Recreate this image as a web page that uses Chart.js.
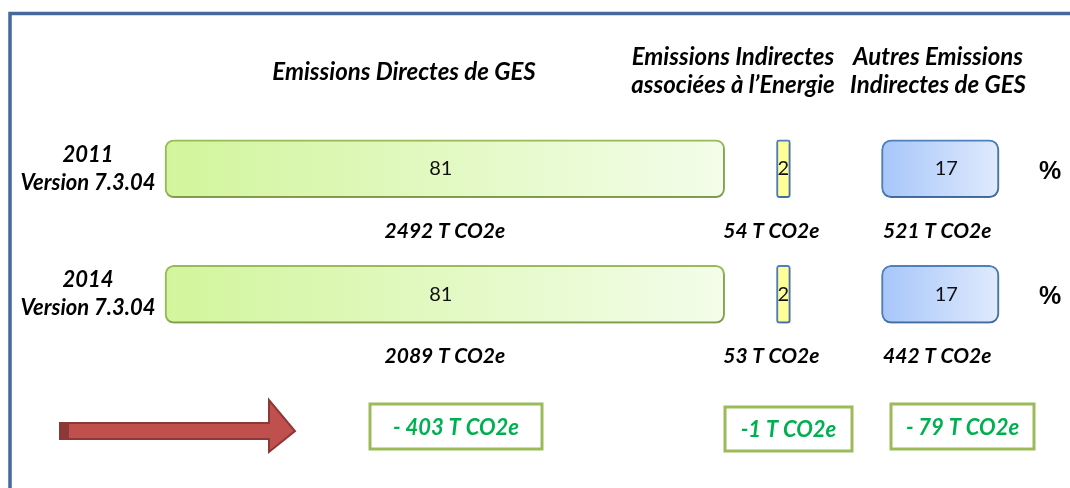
<!DOCTYPE html>
<html>
<head>
<meta charset="utf-8">
<script src="https://cdn.jsdelivr.net/npm/chart.js@4.4.1/dist/chart.umd.min.js"></script>
<style>
    html, body { margin: 0; padding: 0; background: #ffffff; }
    #wrap { width: 1070px; height: 488px; position: relative; }
</style>
</head>
<body>
<div id="wrap"><canvas id="chartGES"></canvas></div>
<script>
// Données
const annees = [["2011", "Version 7.3.04"], ["2014", "Version 7.3.04"]];
const categories = [["Emissions Directes de GES"], ["Emissions Indirectes", "associées à l\u2019Energie"], ["Autres Emissions", "Indirectes de GES"]];
const pctDirectes = [81, 81];
const pctEnergie = [2, 2];
const pctAutres = [17, 17];
const tonnesDirectes = [2492, 2089];
const tonnesEnergie = [54, 53];
const tonnesAutres = [521, 442];
const ecarts = ["- 403 T CO2e", "-1 T CO2e", "- 79 T CO2e"];

// Espaces entre les blocs (en unités de l'axe)
const ecart1 = 7.5;
const ecart2 = 13.2;

const FONT = "Lato, 'Open Sans', sans-serif";

// Construction des barres flottantes à partir des pourcentages
function segments(valeurs, departs) {
    return valeurs.map((v, i) => [departs[i], departs[i] + v]);
}
const debutDirectes = pctDirectes.map(() => 0);
const debutEnergie = pctDirectes.map((v) => v + ecart1);
const debutAutres = pctDirectes.map((v, i) => v + ecart1 + pctEnergie[i] + ecart2);

// Dégradé horizontal sur chaque barre
function degrade(c1, c2) {
    return function (context) {
        const chart = context.chart;
        const x = chart.scales.x;
        if (!chart.chartArea || !x || !Array.isArray(context.raw)) return c1;
        const x0 = x.getPixelForValue(context.raw[0]);
        const x1 = x.getPixelForValue(context.raw[1]);
        const g = chart.ctx.createLinearGradient(x0, 0, x1, 0);
        g.addColorStop(0, c1);
        g.addColorStop(1, c2);
        return g;
    };
}

const datasets = [
    {
        label: categories[0].join(" "),
        data: segments(pctDirectes, debutDirectes),
        valeurs: pctDirectes,
        tonnes: tonnesDirectes,
        backgroundColor: degrade('#d2f59c', '#f3fdea'),
        borderColor: '#9bbb59',
        borderWidth: 2,
        borderRadius: 9,
        decalage: 0,
        decalageValeur: -4
    },
    {
        label: categories[1].join(" "),
        data: segments(pctEnergie, debutEnergie),
        valeurs: pctEnergie,
        tonnes: tonnesEnergie,
        backgroundColor: '#ffff99',
        borderColor: '#4f81bd',
        borderWidth: 2,
        borderRadius: 3,
        decalage: -12,
        decalageValeur: 0
    },
    {
        label: categories[2].join(" "),
        data: segments(pctAutres, debutAutres),
        valeurs: pctAutres,
        tonnes: tonnesAutres,
        backgroundColor: degrade('#a7c6fa', '#dfeafd'),
        borderColor: '#4f81bd',
        borderWidth: 2,
        borderRadius: 10,
        decalage: -3,
        decalageValeur: 6
    }
];

// Ombre légère sous les barres
const ombrePlugin = {
    id: 'ombre',
    beforeDatasetsDraw(chart) {
        const ctx = chart.ctx;
        ctx.save();
        ctx.shadowColor = 'rgba(0,0,0,0.22)';
        ctx.shadowBlur = 3;
        ctx.shadowOffsetX = 1;
        ctx.shadowOffsetY = 2;
    },
    afterDatasetsDraw(chart) {
        chart.ctx.restore();
    }
};

// Textes, cadre, flèche et encadrés
const decorPlugin = {
    id: 'decor',
    afterDraw(chart) {
        const ctx = chart.ctx;
        const yScale = chart.scales.y;
        ctx.save();

        // Cadre bleu
        ctx.strokeStyle = '#47699a';
        ctx.lineWidth = 3.5;
        ctx.beginPath();
        ctx.moveTo(1070, 13.5);
        ctx.lineTo(10, 13.5);
        ctx.lineTo(10, 488);
        ctx.stroke();

        ctx.fillStyle = '#000';
        ctx.textBaseline = 'middle';
        ctx.textAlign = 'center';

        // En-têtes
        ctx.font = "italic bold 24px " + FONT;
        ctx.fillText(categories[0][0], 404, 72);
        ctx.fillText(categories[1][0], 733, 57);
        ctx.fillText(categories[1][1], 733, 85);
        ctx.fillText(categories[2][0], 938, 57);
        ctx.fillText(categories[2][1], 938, 85);

        annees.forEach((lignes, i) => {
            const yc = yScale.getPixelForValue(i);
            // Libellés des années
            ctx.fillStyle = '#000';
            ctx.font = "italic bold 22px " + FONT;
            ctx.fillText(lignes[0], 88, yc - 14);
            ctx.fillText(lignes[1], 88, yc + 14);
            // Pourcentage
            ctx.font = "bold 25px 'Liberation Sans', Arial, sans-serif";
            ctx.fillText("%", 1050, yc + 3);

            chart.data.datasets.forEach((ds, d) => {
                const el = chart.getDatasetMeta(d).data[i];
                const xc = el.x - (el.x - el.base) / 2;
                // Valeur dans la barre
                ctx.font = "20px " + FONT;
                ctx.fillStyle = '#111';
                ctx.fillText(String(ds.valeurs[i]), xc + ds.decalageValeur, yc);
                // Tonnage sous la barre
                ctx.font = "italic bold 21px " + FONT;
                ctx.fillStyle = '#000';
                ctx.fillText(ds.tonnes[i] + " T CO2e", xc + ds.decalage, yc + 62);
            });
        });

        // Flèche rouge
        ctx.fillStyle = '#c0504d';
        ctx.strokeStyle = '#8c3836';
        ctx.lineWidth = 2;
        ctx.beginPath();
        ctx.moveTo(60, 423);
        ctx.lineTo(269, 423);
        ctx.lineTo(269, 400);
        ctx.lineTo(295, 431);
        ctx.lineTo(269, 452);
        ctx.lineTo(269, 439);
        ctx.lineTo(60, 439);
        ctx.closePath();
        ctx.fill();
        ctx.stroke();
        ctx.fillStyle = '#8c3836';
        ctx.fillRect(60, 423, 9, 16);

        // Encadrés des écarts
        const boites = [[370, 404, 172, 45], [725, 407, 127, 44], [891, 404, 143, 45]];
        boites.forEach((b, k) => {
            ctx.strokeStyle = '#9bbb59';
            ctx.lineWidth = 3;
            ctx.fillStyle = '#fff';
            ctx.fillRect(b[0], b[1], b[2], b[3]);
            ctx.strokeRect(b[0], b[1], b[2], b[3]);
            ctx.fillStyle = '#00b050';
            ctx.font = "italic bold 22px " + FONT;
            ctx.fillText(ecarts[k], b[0] + b[2] / 2, b[1] + b[3] / 2 + 1);
        });

        ctx.restore();
    }
};

const canvas = document.getElementById('chartGES');
canvas.width = 1070;
canvas.height = 488;

const chart = new Chart(canvas, {
    type: 'bar',
    data: {
        labels: annees,
        datasets: datasets
    },
    options: {
        indexAxis: 'y',
        responsive: false,
        animation: false,
        datasets: {
            bar: {
                grouped: false,
                barThickness: 58,
                borderSkipped: false,
                clip: false
            }
        },
        layout: {
            padding: { left: 165, right: 71, top: 106, bottom: 131 }
        },
        plugins: {
            legend: { display: false },
            tooltip: { enabled: false }
        },
        scales: {
            x: {
                type: 'linear',
                min: 0,
                max: 120.7,
                display: false
            },
            y: {
                display: false,
                offset: true,
                grid: { display: false }
            }
        }
    },
    plugins: [ombrePlugin, decorPlugin]
});
</script>
</body>
</html>
